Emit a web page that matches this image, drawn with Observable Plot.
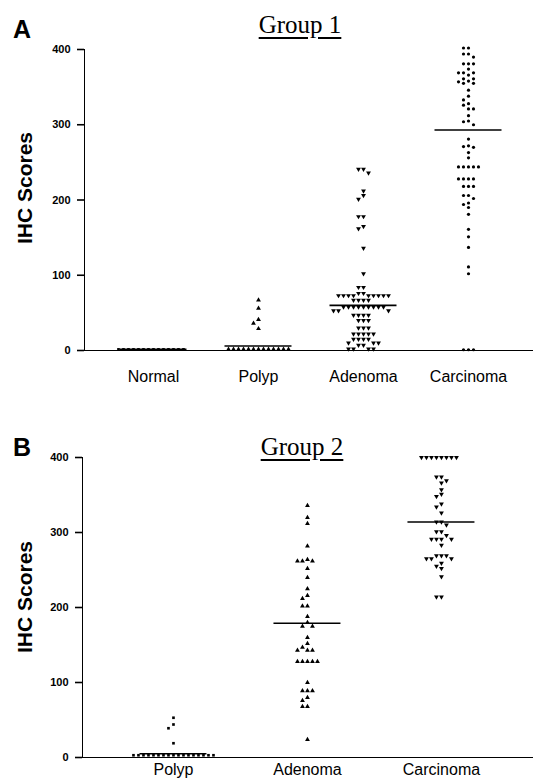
<!DOCTYPE html>
<html><head><meta charset="utf-8">
<script src="https://cdn.jsdelivr.net/npm/d3@7"></script>
<script src="https://cdn.jsdelivr.net/npm/@observablehq/plot@0.6"></script>
<style>
body{margin:0;background:#fff;}
#wrap{position:relative;width:533px;height:778px;overflow:hidden;background:#fff;color:#000;}
.panel{position:absolute;left:0;}
.letter{position:absolute;font:bold 25px "Liberation Sans",Arial,sans-serif;line-height:25px;}
.title{position:absolute;font:25px "Liberation Serif","Times New Roman",serif;line-height:25px;text-decoration:underline;text-decoration-thickness:1.5px;text-underline-offset:4px;transform:translateX(-50%);white-space:nowrap;}
.ylab{position:absolute;font:bold 21px "Liberation Sans",Arial,sans-serif;line-height:21px;transform:translate(-50%,-50%) rotate(-90deg);white-space:nowrap;}
g[aria-label^="y-axis"] text{font:bold 11px "Liberation Sans",Arial,sans-serif;}
g[aria-label^="x-axis"] text{font:16px "Liberation Sans",Arial,sans-serif;}
g[aria-label^="y-axis"] line, g[aria-label^="y-axis"] path, g[aria-label^="x-axis"] line, g[aria-label^="x-axis"] path{stroke-width:1.6px;}
</style>
</head><body>
<div id="wrap"></div>
<script>
// ---------- Data ----------
const group1Categories = ["Normal", "Polyp", "Adenoma", "Carcinoma"];
const group1Normal = [1.5,1.5,1.5,1.5,1.5,1.5,1.5,1.5,1.5,1.5,1.5,1.5,1.5,1.5];
const group1Polyp = [67,56,41,36,29,1.5,1.5,1.5,1.5,1.5,1.5,1.5,1.5,1.5,1.5,1.5,1.5,1.5];
const group1Adenoma = [241,241,236,212,206,201,178,178,165,162,136,102,84,84,76,76,
  73,73,73,73,73,73,73,73,73,67,67,67,67,58,58,58,58,58,58,58,58,58,53,53,53,
  47,47,47,47,40,40,40,30,30,30,22,22,22,22,22,15,15,15,15,10,10,10,7,7,2,2,2,2];
const group1Carcinoma = [402,402,394,394,390,381,381,381,374,369,369,369,366,361,361,358,357,355,355,
  346,338,333,328,326,321,321,312,305,304,300,281,272,271,270,263,256,244,244,244,244,244,
  228,228,228,228,218,218,218,206,206,202,196,194,190,181,161,151,137,111,102,1,1,1];
const group1Lines = [1.5, 6, 60, 293];

const group2Categories = ["Polyp", "Adenoma", "Carcinoma"];
const group2Polyp = [53,44,39,19,3,3,3,3,3,3,3,3,3,3,3,3,3,3,3,3,3];
const group2Adenoma = [336,320,312,282,264,262,262,262,252,240,225,216,212,202,202,188,180,175,175,
  160,152,147,143,143,143,128,128,128,128,128,100,89,89,89,80,76,68,68,24];
const group2Carcinoma = [400,400,400,400,400,400,400,400,374,374,369,366,357,351,348,338,334,326,
  314,314,310,301,301,296,291,291,291,291,283,269,269,269,265,265,265,259,255,252,241,214,214];
const group2Lines = [5, 179, 314];

const yTicks = [0, 100, 200, 300, 400];

// ---------- Symbols ----------
const triangleDown = {draw(context, size) {
  const y = -Math.sqrt(size / (Math.sqrt(3) * 3));
  context.moveTo(0, -y * 2);
  context.lineTo(-Math.sqrt(3) * y, y);
  context.lineTo(Math.sqrt(3) * y, y);
  context.closePath();
}};

// column-style scatter layout (center, left, right, ...) in pixel space
function swarm(values, pxPerY, spacing, minDy) {
  const placed = [];
  const order = values.map((v, i) => i).sort((a, b) => values[b] - values[a]);
  for (const i of order) {
    const v = values[i], py = v * pxPerY;
    for (let k = 0; k < 200; k++) {
      const off = k === 0 ? 0 : (k % 2 ? -Math.ceil(k / 2) : k / 2);
      const px = off * spacing;
      if (!placed.some(p => Math.abs(p.px - px) < spacing * 0.5 && Math.abs(p.py - py) < minDy)) {
        placed.push({px, py, v});
        break;
      }
    }
  }
  return placed;
}

function panel(o) {
  const width = 533;
  const pxPerX = (width - o.marginLeft) / (o.xDomain[1] - o.xDomain[0]);
  const pxPerY = (o.height - o.marginTop - o.marginBottom) / 400;
  const marks = [];
  o.cats.forEach((c, i) => {
    const pts = swarm(o.series[i], pxPerY, 5, 4.5).map(p => ({x: i + p.px / pxPerX, v: p.v}));
    marks.push(Plot.dot(pts, {x: "x", y: "v", symbol: o.symbols[i], r: o.radii[i], fill: "black", stroke: "none"}));
  });
  const halfW = 33.5 / pxPerX;
  marks.push(Plot.ruleY(o.lines.map((v, i) => ({i, v})), {
    y: "v", x1: d => d.i - halfW, x2: d => d.i + halfW, stroke: "black", strokeWidth: 1.6
  }));
  return Plot.plot({
    width, height: o.height,
    marginLeft: o.marginLeft, marginRight: 0, marginTop: o.marginTop, marginBottom: o.marginBottom,
    style: {background: "white", color: "black", fontFamily: "Liberation Sans, Arial, sans-serif", overflow: "visible"},
    x: {domain: o.xDomain, ticks: o.cats.map((c, i) => i), tickFormat: i => o.cats[i], tickSize: 0,
        tickPadding: o.tickPadding, line: true, label: null},
    y: {domain: [0, 400], ticks: yTicks, tickFormat: d => String(d), tickSize: 7, tickPadding: 7, line: true, label: null},
    marks
  });
}

const wrap = document.getElementById("wrap");

const plotA = panel({
  cats: group1Categories,
  series: [group1Normal, group1Polyp, group1Adenoma, group1Carcinoma],
  symbols: ["square", "triangle", triangleDown, "circle"],
  radii: [1.5, 1.8, 1.8, 1.6],
  lines: group1Lines,
  height: 392, marginLeft: 84, marginTop: 49, marginBottom: 42,
  xDomain: [-0.657, 3.619], tickPadding: 20
});
plotA.classList.add("panel"); plotA.style.top = "0px";
wrap.appendChild(plotA);

const plotB = panel({
  cats: group2Categories,
  series: [group2Polyp, group2Adenoma, group2Carcinoma],
  symbols: ["square", "triangle", triangleDown],
  radii: [1.5, 1.8, 1.8],
  lines: group2Lines,
  height: 388, marginLeft: 82, marginTop: 67, marginBottom: 21,
  xDomain: [-0.679, 2.687], tickPadding: 6
});
plotB.classList.add("panel"); plotB.style.top = "390px";
wrap.appendChild(plotB);

function addText(cls, text, left, top) {
  const d = document.createElement("div");
  d.className = cls; d.textContent = text;
  d.style.left = left + "px"; d.style.top = top + "px";
  wrap.appendChild(d);
}
addText("letter", "A", 13, 17);
addText("title", "Group 1", 300, 12);
addText("ylab", "IHC Scores", 24, 188);
addText("letter", "B", 13, 435);
addText("title", "Group 2", 302, 434);
addText("ylab", "IHC Scores", 24, 597);
</script>
</body></html>
